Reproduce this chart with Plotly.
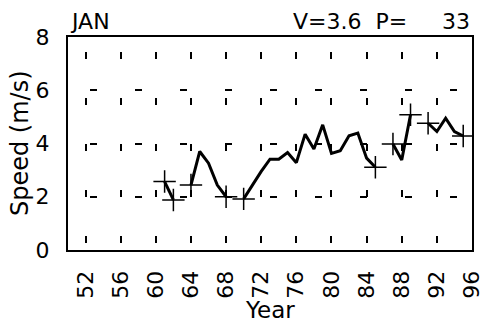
import plotly.graph_objects as go

# ---- data ----
years = list(range(50, 97))
speed = [None] * 11 + [  # 50..60 missing
    2.57, 1.88, None, 2.44, 3.70, 3.26, 2.44, 2.00, None,      # 61..69
    1.92, 2.45, 2.95, 3.41, 3.41, 3.66, 3.28, 4.35, 3.79, 4.70,  # 70..79
    3.63, 3.73, 4.29, 4.39, 3.45, 3.11, None, 3.98, 3.38, 5.08,  # 80..89
    None, 4.76, 4.45, 4.95, 4.45, 4.28, None,                    # 90..96
]
x_tickvals = list(range(52, 97, 4))
x_ticktext = [str(v) for v in x_tickvals]
y_tickvals = [0, 2, 4, 6, 8]
y_ticktext = [str(v) for v in y_tickvals]
title_left = "JAN"
title_right = "V=3.6\u00a0\u00a0P=\u00a0\u00a0\u00a0\u00a0\u00a033"
x_title = "Year"
y_title = "Speed (m/s)"

# segment end points get a "+" marker
end_x, end_y = [], []
for i, v in enumerate(speed):
    if v is None:
        continue
    prev_missing = i == 0 or speed[i - 1] is None
    next_missing = i == len(speed) - 1 or speed[i + 1] is None
    if prev_missing or next_missing:
        end_x.append(years[i])
        end_y.append(v)

FONT = "DejaVu Sans"

fig = go.Figure()
fig.add_trace(go.Scatter(
    x=years, y=speed, mode="lines", connectgaps=False,
    line=dict(color="black", width=3), showlegend=False, hoverinfo="skip",
))
fig.add_trace(go.Scatter(
    x=end_x, y=end_y, mode="markers",
    marker=dict(symbol="cross-thin", size=16, line=dict(color="black", width=1.5)),
    showlegend=False, hoverinfo="skip",
))

fig.update_layout(
    width=485, height=324,
    margin=dict(l=68, r=13, t=37, b=74),
    paper_bgcolor="white", plot_bgcolor="white",
    font=dict(family=FONT, color="black", size=20),
    xaxis=dict(
        range=[50, 96], tickmode="array", tickvals=x_tickvals, ticktext=x_ticktext,
        tickangle=-90, tickfont=dict(size=22, family=FONT),
        ticks="outside", ticklen=10, tickcolor="rgba(0,0,0,0)",
        showline=True, linecolor="black", linewidth=2, mirror=True,
        showgrid=True, gridcolor="black", gridwidth=2,
        griddash="0px,15px,7px,24px",
        zeroline=False, automargin=False,
    ),
    yaxis=dict(
        range=[0, 8], tickmode="array", tickvals=y_tickvals, ticktext=y_ticktext,
        tickfont=dict(size=22, family=FONT),
        ticks="outside", ticklen=12, tickcolor="rgba(0,0,0,0)",
        showline=True, linecolor="black", linewidth=2, mirror=True,
        showgrid=True, gridcolor="black", gridwidth=2,
        griddash="0px,22px,7px,16px",
        zeroline=False, automargin=False,
    ),
    annotations=[
        dict(text=title_left, xref="paper", yref="paper", x=0, y=1, xanchor="left",
             yanchor="bottom", yshift=1, showarrow=False, font=dict(size=22, family=FONT)),
        dict(text=title_right, xref="paper", yref="paper", x=1, y=1, xanchor="right",
             yanchor="bottom", yshift=1, showarrow=False, font=dict(size=22, family=FONT)),
        dict(text=x_title, xref="paper", yref="paper", x=0.5, y=-0.28, xanchor="center",
             yanchor="middle", showarrow=False, font=dict(size=23, family=FONT)),
        dict(text=y_title, xref="paper", yref="paper", x=-0.12, y=0.5, xanchor="center",
             yanchor="middle", textangle=-90, showarrow=False, font=dict(size=24, family=FONT)),
    ],
)

fig.write_html(
    "out.html",
    config={"displayModeBar": False, "staticPlot": True},
    post_script="document.body.style.margin='0px';document.body.style.overflow='hidden';",
)
